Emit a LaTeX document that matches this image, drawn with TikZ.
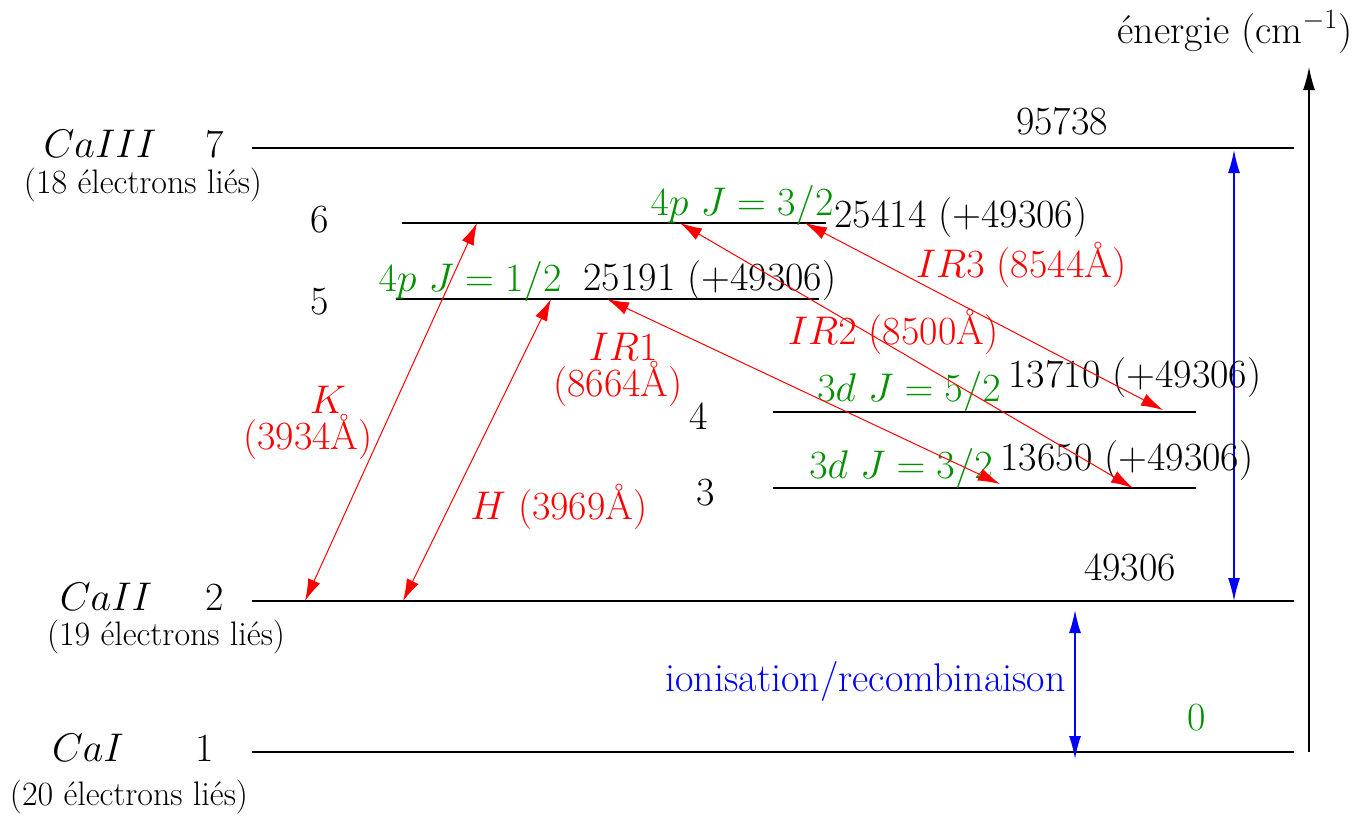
\documentclass[tikz,border=0pt]{standalone}
\usetikzlibrary{arrows.meta}
\DeclareFontFamily{OML}{cmm}{\skewchar\font127 }
\DeclareFontShape{OML}{cmm}{m}{it}{<->cmmi12}{}
\DeclareFontFamily{OT1}{cmr}{\hyphenchar\font45 }
\DeclareFontShape{OT1}{cmr}{m}{n}{<->cmr17}{}
\DeclareFontFamily{OMS}{cmsy}{\skewchar\font48 }
\DeclareFontShape{OMS}{cmsy}{m}{n}{<->cmsy10}{}
\definecolor{figgreen}{RGB}{0,144,0}
\begin{document}
\begin{tikzpicture}[x=0.5pt,y=-0.5pt,
  lbl/.style={inner sep=0pt, font=\fontsize{20}{24}\selectfont},
  smalllbl/.style={inner sep=0pt, font=\fontsize{17}{20}\selectfont},
  grn/.style={lbl, text=figgreen},
  rd/.style={lbl, text=red},
  tip/.style={},
  level/.style={black, line width=0.6pt},
  trans/.style={red, line width=0.5pt, {Latex[length=11pt,width=6.5pt]}-{Latex[length=11pt,width=6.5pt]}},
  blu/.style={blue, line width=0.7pt, {Latex[length=11.5pt,width=6pt]}-{Latex[length=11.5pt,width=6pt]}},
  axis/.style={black, line width=0.6pt, -{Latex[length=11.5pt,width=6pt]}}]
\useasboundingbox (0,0) rectangle (1370,816);

% level end points
\coordinate (L7a) at (252,148); \coordinate (L7b) at (1294,148);
\coordinate (L6a) at (402,223); \coordinate (L6b) at (826,223);
\coordinate (L5a) at (396,299); \coordinate (L5b) at (819,299);
\coordinate (L4a) at (773,412); \coordinate (L4b) at (1196,412);
\coordinate (L3a) at (773,488); \coordinate (L3b) at (1196,488);
\coordinate (L2a) at (252,601); \coordinate (L2b) at (1294,601);
\coordinate (L1a) at (252,752); \coordinate (L1b) at (1294,752);
\foreach \n in {7,6,5,4,3,2,1} \draw[level] (L\n a) -- (L\n b);

% energy axis
\coordinate (ax0) at (1309,752); \coordinate (ax1) at (1309,67);
\draw[axis] (ax0) -- (ax1);
\node[lbl] (axlbl) at (1235,32) {énergie (cm$^{-1}$)};

% blue arrows
\coordinate (b7) at (1234,150); \coordinate (b2) at (1234,601);
\draw[blu] (b7) -- (b2);
\coordinate (i2) at (1075,610); \coordinate (i1) at (1075,759);
\draw[blu] (i2) -- (i1);
\node[lbl, text=blue, anchor=east] (ion) at (1066,681) {ionisation/recombinaison};

% left labels
\node[lbl] (ca3) at (100,144) {$CaIII$};
\node[lbl] (n7) at (215,144) {7};
\node[smalllbl] (e18) at (143,185) {(18 électrons liés)};
\node[lbl] (n6) at (320,220) {6};
\node[lbl] (n5) at (320,302) {5};
\node[lbl] (n4) at (699,416) {4};
\node[lbl] (n3) at (706,493) {3};
\node[lbl] (ca2) at (106,597) {$CaII$};
\node[lbl] (n2) at (215,597) {2};
\node[smalllbl] (e19) at (166,637) {(19 électrons liés)};
\node[lbl] (ca1) at (88,748) {$CaI$};
\node[lbl] (n1) at (205,748) {1};
\node[smalllbl] (e20) at (129,797) {(20 électrons liés)};

% energies
\node[lbl] (v7) at (1062,121) {95738};
\node[lbl] (v2) at (1130,567) {49306};
\node[grn] (v1) at (1197,718) {0};
\node[grn] (s6) at (742,205) {$4p\ J=3/2$};
\node[lbl] (v6) at (961,218) {25414 (+49306)};
\node[grn] (s5) at (470,281) {$4p\ J=1/2$};
\node[lbl] (v5) at (710,281) {25191 (+49306)};
\node[grn] (s4) at (909,391) {$3d\ J=5/2$};
\node[lbl] (v4) at (1135,378) {13710 (+49306)};
\node[grn] (s3) at (901,468) {$3d\ J=3/2$};
\node[lbl] (v3) at (1127,461) {13650 (+49306)};

% transitions
\coordinate (Ka) at (305,601); \coordinate (Kb) at (477,223);
\coordinate (Ha) at (403,601); \coordinate (Hb) at (551,299);
\coordinate (I1a) at (607,299); \coordinate (I1b) at (1000,484);
\coordinate (I2a) at (680,223); \coordinate (I2b) at (1133,488);
\coordinate (I3a) at (805,223); \coordinate (I3b) at (1163,410);
\draw[trans] (Ka) -- (Kb);
\draw[trans] (Ha) -- (Hb);
\draw[trans] (I1a) -- (I1b);
\draw[trans] (I2a) -- (I2b);
\draw[trans] (I3a) -- (I3b);

\node[rd] (kl1) at (328,400) {$K$};
\node[rd] (kl2) at (308,437) {(3934Å)};
\node[rd] (hl) at (559,507) {$H$ (3969Å)};
\node[rd] (ir1a) at (623,347) {$IR1$};
\node[rd] (ir1b) at (618,384) {(8664Å)};
\node[rd] (ir2) at (893,332) {$IR2$ (8500Å)};
\node[rd] (ir3) at (1021,265) {$IR3$ (8544Å)};
\end{tikzpicture}
\end{document}
